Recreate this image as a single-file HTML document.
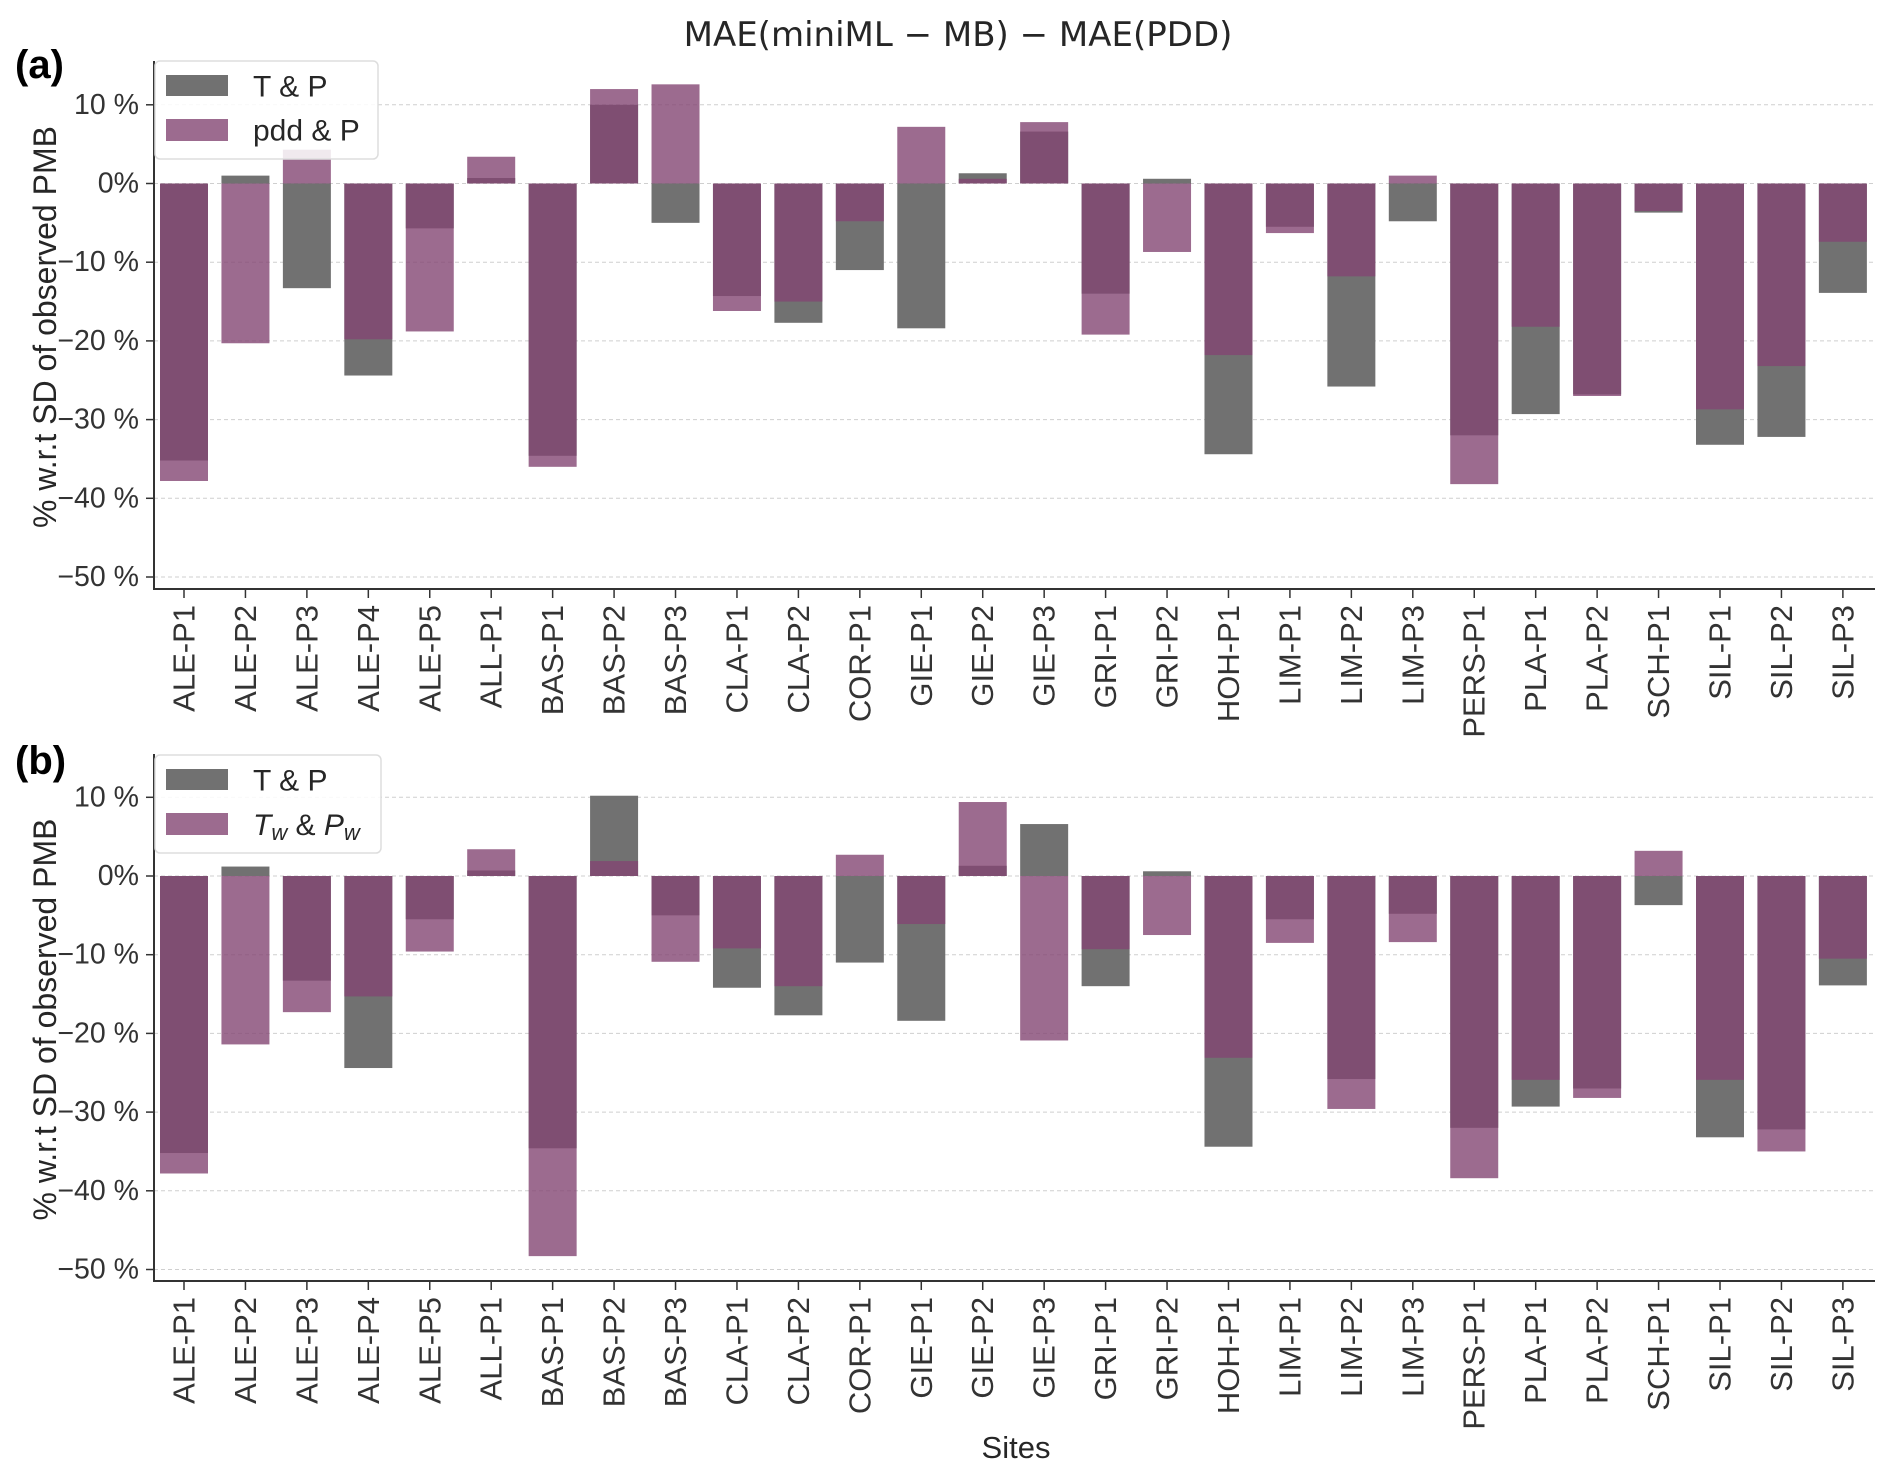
<!DOCTYPE html>
<html><head><meta charset="utf-8">
<style>
html,body{margin:0;padding:0;background:#fff;}
svg{display:block;font-family:"Liberation Sans",sans-serif;}
</style></head>
<body>
<svg id="chart" width="1892" height="1479" viewBox="0 0 1892 1479" xmlns="http://www.w3.org/2000/svg">
<text x="958" y="46" text-anchor="middle" font-family="DejaVu Sans, sans-serif" font-size="34" fill="#262626">MAE(miniML − MB) − MAE(PDD)</text>
<text x="15" y="78" font-size="40" font-weight="bold" fill="#000">(a)</text>
<text x="15" y="774" font-size="40" font-weight="bold" fill="#000">(b)</text>
<text x="1016" y="1458" text-anchor="middle" font-size="31" fill="#262626">Sites</text>
<g id="pa"></g>
<g id="pb"></g>
</svg>
<script>
const sites = ["ALE-P1","ALE-P2","ALE-P3","ALE-P4","ALE-P5","ALL-P1","BAS-P1","BAS-P2","BAS-P3","CLA-P1","CLA-P2","COR-P1","GIE-P1","GIE-P2","GIE-P3","GRI-P1","GRI-P2","HOH-P1","LIM-P1","LIM-P2","LIM-P3","PERS-P1","PLA-P1","PLA-P2","SCH-P1","SIL-P1","SIL-P2","SIL-P3"];
const tpA = [-35.2,1.0,-13.3,-24.4,-5.7,0.7,-34.6,10.0,-5.0,-14.3,-17.7,-11.0,-18.4,1.3,6.6,-14.0,0.6,-34.4,-5.5,-25.8,-4.8,-32.0,-29.3,-26.8,-3.7,-33.2,-32.2,-13.9];
const pddA = [-37.8,-20.3,4.3,-19.8,-18.8,3.4,-36.0,12.0,12.6,-16.2,-15.0,-4.8,7.2,0.6,7.8,-19.2,-8.7,-21.8,-6.3,-11.8,1.0,-38.2,-18.2,-27.0,-3.5,-28.7,-23.2,-7.4];
const tpB = [-35.2,1.2,-13.3,-24.4,-5.5,0.7,-34.6,10.2,-5.0,-14.2,-17.7,-11.0,-18.4,1.3,6.6,-14.0,0.6,-34.4,-5.5,-25.8,-4.8,-32.0,-29.3,-27.0,-3.7,-33.2,-32.2,-13.9];
const twB = [-37.8,-21.4,-17.3,-15.3,-9.6,3.4,-48.3,1.9,-10.9,-9.2,-14.0,2.7,-6.1,9.4,-20.9,-9.3,-7.5,-23.1,-8.5,-29.6,-8.4,-38.4,-25.9,-28.2,3.2,-25.9,-35.0,-10.5];
const yTicks = [10,0,-10,-20,-30,-40,-50];
const yTickLabels = ["10 %","0%","−10 %","−20 %","−30 %","−40 %","−50 %"];

const NS="http://www.w3.org/2000/svg";
function mk(tag,attrs,parent){const e=document.createElementNS(NS,tag);for(const k in attrs)e.setAttribute(k,attrs[k]);parent.appendChild(e);return e;}
const X0=184, STEP=61.44, BW=48, LEFT=154, RIGHT=1875, K=7.87;
function xScale(i){return X0+i*STEP;}

function panel(g,key,y0,top,bottom,grayVals,pinkVals,legendTop,legendW,isB){
  const y=v=>y0-v*K;
  yTicks.forEach((t,i)=>{
    const gl=mk('line',{x1:LEFT,x2:RIGHT,y1:y(t),y2:y(t),stroke:'#cfcfcf','stroke-width':1,'stroke-dasharray':'4,3'},g);
    
    
    const tk=mk('line',{x1:LEFT-8,x2:LEFT,y1:y(t),y2:y(t),stroke:'#333','stroke-width':1.5},g);
    
    
    const tl=mk('text',{x:LEFT-15,y:y(t),'text-anchor':'end','dominant-baseline':'central','font-size':28.5,fill:'#333'},g);
    tl.textContent=yTickLabels[i];
    
    
  });
  sites.forEach((s,i)=>{
    const cx=xScale(i);
    const gv=grayVals[i], pv=pinkVals[i];
    const gb=mk('rect',{x:cx-BW/2,width:BW,y:Math.min(y(0),y(gv)),height:Math.abs(gv*K),fill:'#717171'},g);
    
    
    const pb=mk('rect',{x:cx-BW/2,width:BW,y:Math.min(y(0),y(pv)),height:Math.abs(pv*K),fill:'rgb(131,70,115)','fill-opacity':0.8},g);
    
    
    const tk=mk('line',{x1:cx,x2:cx,y1:bottom,y2:bottom+9,stroke:'#333','stroke-width':1.5},g);
    
    
    const lb=mk('text',{transform:`translate(${cx},${bottom+16}) rotate(-90)`,'text-anchor':'end','dominant-baseline':'central','font-size':31,fill:'#333'},g);
    lb.textContent=s;
    
    
  });
  const ax=mk('path',{d:`M${LEFT},${top} V${bottom} H${RIGHT}`,fill:'none',stroke:'#333','stroke-width':2},g);
  
  
  const yl=mk('text',{transform:`translate(45,${(top+bottom)/2+2}) rotate(-90)`,'text-anchor':'middle','dominant-baseline':'central','font-size':32,fill:'#262626'},g);
  yl.textContent='% w.r.t SD of observed PMB';
  
  
  const lg=mk('g',{},g);
  
  
  mk('rect',{x:155,y:legendTop,width:legendW,height:98,rx:5,fill:'#fff','fill-opacity':0.85,stroke:'#ddd','stroke-width':1.5},lg);
  const p1=mk('rect',{x:166,y:legendTop+14,width:62,height:21,fill:'#717171'},lg);
  
  
  const t1=mk('text',{x:253,y:legendTop+26,'dominant-baseline':'central','font-size':30,fill:'#262626'},lg);
  t1.textContent='T & P';
  
  
  const p2=mk('rect',{x:166,y:legendTop+58,width:62,height:22,fill:'rgb(131,70,115)','fill-opacity':0.8},lg);
  
  
  const t2=mk('text',{x:253,y:legendTop+70,'dominant-baseline':'central','font-size':30,fill:'#262626'},lg);
  if(isB){
    t2.innerHTML='<tspan font-style="italic">T</tspan><tspan font-style="italic" font-size="22" dy="7">w</tspan><tspan dy="-7"> &amp; </tspan><tspan font-style="italic">P</tspan><tspan font-style="italic" font-size="22" dy="7">w</tspan>';
  } else {
    t2.textContent='pdd & P';
  }
  
  
}
panel(document.getElementById('pa'),'panel-a',183.5,61,589,tpA,pddA,61,223,false);
panel(document.getElementById('pb'),'panel-b',876,754,1281,tpB,twB,755,226,true);
</script>
</body></html>
